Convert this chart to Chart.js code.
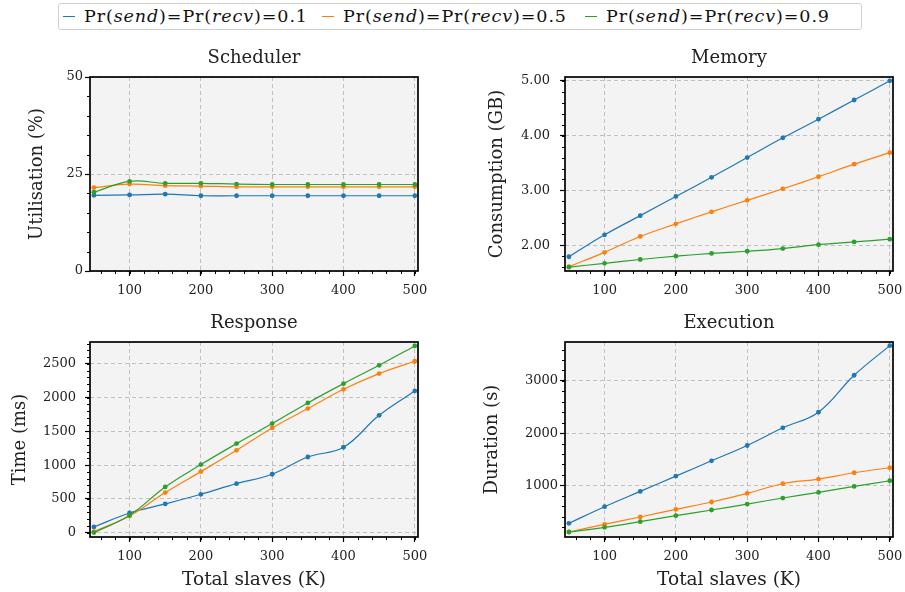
<!DOCTYPE html>
<html><head><meta charset="utf-8">
<script src="https://cdn.jsdelivr.net/npm/chart.js@4.4.0/dist/chart.umd.min.js"></script>
<style>
html,body{margin:0;padding:0;background:#fff;overflow:hidden}
body{width:905px;height:592px;position:relative;font-family:"DejaVu Serif",serif;color:#111}
.cv{position:absolute}
#legend{position:absolute;left:58px;top:3px;width:804px;height:27px;border:1.5px solid #cfcfcf;border-radius:3px;box-sizing:border-box;background:#fff}
.item{position:absolute;top:0;height:24px;line-height:24px;font-size:17.5px;letter-spacing:0.9px;white-space:nowrap}
.mk{position:absolute;left:0;top:11.5px;width:12px;height:1.6px}
.tx{position:absolute;left:21px;top:0}
</style></head>
<body>
<div id="legend"></div>
<canvas id="c1" class="cv"></canvas>
<canvas id="c2" class="cv"></canvas>
<canvas id="c3" class="cv"></canvas>
<canvas id="c4" class="cv"></canvas>
<script>
// ---- data ----
const slaves = [50,100,150,200,250,300,350,400,450,500];
const probLabels = ['0.1','0.5','0.9'];

const schedP01 = [19.5,19.6,19.8,19.4,19.4,19.4,19.4,19.4,19.4,19.4];
const schedP05 = [21.5,22.4,22.0,21.9,21.7,21.7,21.7,21.7,21.7,21.7];
const schedP09 = [20.3,23.1,22.6,22.6,22.4,22.3,22.3,22.3,22.3,22.3];

const memP01 = [1.79,2.19,2.54,2.89,3.24,3.60,3.96,4.30,4.65,5.00];
const memP05 = [1.61,1.87,2.16,2.39,2.61,2.82,3.03,3.25,3.48,3.69];
const memP09 = [1.60,1.67,1.74,1.80,1.85,1.89,1.94,2.01,2.06,2.11];

const respP01 = [84,291,425,568,726,865,1121,1265,1739,2100];
const respP05 = [15,247,593,904,1220,1551,1838,2124,2357,2540];
const respP09 = [0,257,677,1008,1319,1616,1922,2208,2480,2767];

const execP01 = [274,592,885,1178,1471,1764,2102,2401,3108,3675];
const execP05 = [108,255,395,541,682,847,1032,1121,1242,1338];
const execP09 = [108,197,306,420,529,643,758,866,981,1089];

const xTicks = [100,200,300,400,500];
const schedTicks = [0,25,50];
const memTicks = [2,3,4,5];
const respTicks = [0,500,1000,1500,2000,2500];
const execTicks = [1000,2000,3000];

const titles = ['Scheduler','Memory','Response','Execution'];
const yTitles = ['Utilisation (%)','Consumption (GB)','Time (ms)','Duration (s)'];
const xTitle = 'Total slaves (K)';

// ---- style ----
const FONT = '"DejaVu Serif", serif';
const COLORS = ['#1f77b4','#ff7f0e','#2ca02c'];
const TXT = '#222';

// legend
const leg = document.getElementById('legend');
const legX = [4, 263, 526];
probLabels.forEach((p,i)=>{
  const it = document.createElement('div');
  it.className='item'; it.style.left = legX[i]+'px';
  it.innerHTML = '<span class="mk" style="background:'+COLORS[i]+'"></span><span class="tx">Pr(<i>send</i>)=Pr(<i>recv</i>)='+p+'</span>';
  leg.appendChild(it);
});

const framePlugin = {
  id:'frame',
  beforeDraw(chart){
    const {ctx, chartArea:a} = chart;
    ctx.save(); ctx.fillStyle='#f3f3f3';
    ctx.fillRect(a.left,a.top,a.right-a.left,a.bottom-a.top); ctx.restore();
  },
  afterDraw(chart, args, opts){
    const {ctx, chartArea:a, scales:{x,y}} = chart;
    ctx.save();
    ctx.strokeStyle='#000'; ctx.lineWidth=1;
    ctx.beginPath();
    for (let v = Math.ceil(x.min/opts.xMinor)*opts.xMinor; v<=x.max; v+=opts.xMinor){
      const px = Math.round(x.getPixelForValue(v))+0.5;
      ctx.moveTo(px,a.bottom); ctx.lineTo(px,a.bottom+3);
    }
    for (let v = Math.ceil(y.min/opts.yMinor)*opts.yMinor; v<=y.max+1e-9; v+=opts.yMinor){
      const py = Math.round(y.getPixelForValue(v))+0.5;
      ctx.moveTo(a.left,py); ctx.lineTo(a.left-3,py);
    }
    ctx.stroke();
    ctx.lineWidth=1.7;
    ctx.strokeRect(a.left,a.top,a.right-a.left,a.bottom-a.top);
    ctx.restore();
  }
};

function place(id, left, top, w, h){
  const c = document.getElementById(id);
  c.style.left = left+'px'; c.style.top = top+'px';
  c.style.width = w+'px'; c.style.height = h+'px';
  c.width = w; c.height = h;
  return c;
}

function makeChart(id, o){
  const c = place(id, o.left, o.top, o.w, o.h);
  const ds = o.data.map((d,i)=>({
    label: 'Pr(send)=Pr(recv)='+probLabels[i],
    data: d.map((v,k)=>({x:slaves[k], y:v})),
    borderColor: COLORS[i], backgroundColor: COLORS[i],
    borderWidth: 1.2, pointRadius: 2.4, pointBorderWidth: 0,
    pointBackgroundColor: COLORS[i], tension: 0.4, order: 3-i
  }));
  return new Chart(c, {
    type:'line',
    data:{datasets: ds},
    options:{
      responsive:false, animation:false, devicePixelRatio:1,
      layout:{padding:{left:0,top:0,bottom:0,right:o.padR}},
      plugins:{
        legend:{display:false}, tooltip:{enabled:false},
        title:{display:true, fullSize:false, text:o.title, color:TXT, font:{family:FONT,size:18,weight:'normal',lineHeight:1.2}, padding:{top:4.4,bottom:8}},
        frame:{xMinor:20, yMinor:o.yMinor}
      },
      scales:{
        x:{type:'linear', min:44.5, max:504.5,
          afterBuildTicks: s => { s.ticks = xTicks.map(v=>({value:v})); },
          afterFit: s => { s.height = o.hx; s.paddingLeft = 0; s.paddingRight = 0; },
          grid:{color:'#b3b3b3', lineWidth:0.8, tickColor:'#000', tickWidth:1.2, tickLength:5},
          border:{display:false, dash:[4,3]},
          ticks:{color:TXT, font:{family:FONT,size:13}, padding:7, maxRotation:0, autoSkip:false},
          title:{display:o.showX, text:xTitle, color:TXT, font:{family:FONT,size:18.5}, padding:{top:0,bottom:1}}
        },
        y:{type:'linear', min:o.yMin, max:o.yMax,
          afterBuildTicks: s => { s.ticks = o.yTicks.map(v=>({value:v})); },
          afterFit: s => { s.width = o.wy; s.paddingTop = 0; s.paddingBottom = 0; },
          grid:{color:'#b3b3b3', lineWidth:0.8, tickColor:'#000', tickWidth:1.2, tickLength:5},
          border:{display:false, dash:[4,3]},
          ticks:{color:TXT, font:{family:FONT,size:13}, padding:o.yPad, autoSkip:false, callback: v => o.fmt(v)},
          title:{display:true, text:o.yTitle, color:TXT, font:{family:FONT,size:18}, padding:{top:o.ytp,bottom:0}}
        }
      }
    },
    plugins:[framePlugin]
  });
}

makeChart('c1',{left:0, top:43, w:434, h:258, padR:16, wy:90, hx:30, showX:false,
  data:[schedP01,schedP05,schedP09], yMin:0, yMax:50, yTicks:schedTicks, yMinor:5,
  fmt:v=>String(v), title:titles[0], yTitle:yTitles[0], ytp:27, yPad:2});
makeChart('c2',{left:455, top:43, w:450, h:258, padR:12, wy:110, hx:30, showX:false,
  data:[memP01,memP05,memP09], yMin:1.53, yMax:5.07, yTicks:memTicks, yMinor:0.2,
  fmt:v=>v.toFixed(2), title:titles[1], yTitle:yTitles[1], ytp:32, yPad:10});
makeChart('c3',{left:0, top:308, w:434, h:284, padR:16, wy:90, hx:55, showX:true,
  data:[respP01,respP05,respP09], yMin:-65, yMax:2825, yTicks:respTicks, yMinor:100,
  fmt:v=>String(v), title:titles[2], yTitle:yTitles[2], ytp:10, yPad:9});
makeChart('c4',{left:455, top:308, w:450, h:284, padR:12, wy:110, hx:55, showX:true,
  data:[execP01,execP05,execP09], yMin:12, yMax:3745, yTicks:execTicks, yMinor:200,
  fmt:v=>String(v), title:titles[3], yTitle:yTitles[3], ytp:27, yPad:2});
</script>
</body></html>
